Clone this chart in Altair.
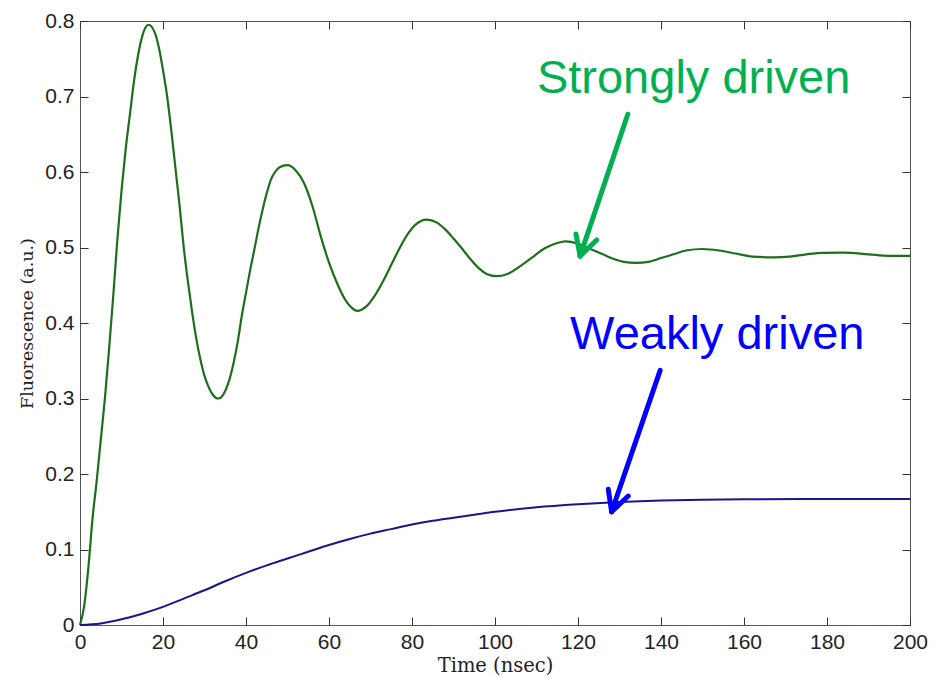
import altair as alt
import pandas as pd

# Strongly driven: damped oscillation of the fluorescence (time in ns, a.u.)
time_strong = [0, 1, 2, 3, 4, 5, 6, 7, 8, 9, 10, 11, 12, 13, 14, 15,
               16.5, 18, 19, 20, 21, 22, 23, 24, 25, 26, 27, 28, 29, 30, 31, 32, 33.3,
               35, 36, 37, 38, 39, 40, 41, 42, 43, 44, 45, 46, 47, 48, 50,
               52, 54, 56, 58, 60, 62, 64, 65.5, 66.8,
               69, 71, 73, 75, 77, 79, 81, 83.5,
               86, 88, 90, 92, 94, 96, 98, 100.3,
               103, 106, 109, 112, 115, 117,
               120, 123, 126, 129, 131, 134,
               137, 140, 143, 146, 150,
               154, 158, 162, 167,
               171, 175, 179, 184,
               190, 195, 200]
fluor_strong = [0, 0.025, 0.075, 0.14, 0.19, 0.245, 0.30, 0.365, 0.435, 0.51, 0.575, 0.63, 0.675, 0.72, 0.755, 0.78,
                0.795, 0.785, 0.765, 0.735, 0.70, 0.655, 0.605, 0.555, 0.50, 0.455, 0.415, 0.38, 0.352, 0.33, 0.315, 0.305, 0.300,
                0.31, 0.325, 0.347, 0.375, 0.41, 0.44, 0.47, 0.497, 0.525, 0.55, 0.572, 0.59, 0.60, 0.606, 0.609,
                0.602, 0.585, 0.555, 0.515, 0.48, 0.452, 0.43, 0.42, 0.416,
                0.422, 0.436, 0.455, 0.477, 0.499, 0.518, 0.531, 0.537,
                0.533, 0.524, 0.512, 0.499, 0.485, 0.473, 0.465, 0.462,
                0.465, 0.475, 0.487, 0.499, 0.506, 0.508,
                0.505, 0.498, 0.491, 0.484, 0.481, 0.4797,
                0.481, 0.486, 0.491, 0.496, 0.498,
                0.496, 0.492, 0.488, 0.487,
                0.488, 0.491, 0.493, 0.4933,
                0.491, 0.489, 0.489]

# Weakly driven: slow monotonic rise to a plateau
time_weak = [0, 5, 10, 15, 20, 25, 30, 35, 40, 45, 50, 55, 60, 65, 70, 75, 80, 85, 90, 95, 100,
             110, 120, 130, 140, 150, 160, 180, 200]
fluor_weak = [0, 0.002, 0.0075, 0.015, 0.024, 0.035, 0.046, 0.058, 0.069, 0.079, 0.088, 0.097, 0.106,
              0.114, 0.121, 0.127, 0.133, 0.138, 0.142, 0.146, 0.150,
              0.156, 0.160, 0.163, 0.165, 0.166, 0.1665, 0.167, 0.167]

x_ticks = [0, 20, 40, 60, 80, 100, 120, 140, 160, 180, 200]
y_ticks = [0, 0.1, 0.2, 0.3, 0.4, 0.5, 0.6, 0.7, 0.8]

# Annotation labels (anchored in data units) and arrow segments
label_text = ["Strongly driven", "Weakly driven"]
label_t = [110.1, 118.1]
label_f = [0.705, 0.366]
label_color = ["#00b050", "#0000ff"]

arrow_t = [132.0, 119.5, 124.5, 139.8, 127.3, 132.1]
arrow_f = [0.6765, 0.518, 0.510, 0.3373, 0.1797, 0.1708]
arrow_tip_t = [120.5, 120.5, 120.5, 128.1, 128.1, 128.1]
arrow_tip_f = [0.4886, 0.4886, 0.4886, 0.150, 0.150, 0.150]
arrow_color = ["#00b050"] * 3 + ["#0000ff"] * 3

strong = pd.DataFrame({"t": time_strong, "f": fluor_strong})
weak = pd.DataFrame({"t": time_weak, "f": fluor_weak})
labels = pd.DataFrame({"t": label_t, "f": label_f, "text": label_text, "color": label_color})
arrows = pd.DataFrame({"t": arrow_t, "f": arrow_f, "t2": arrow_tip_t, "f2": arrow_tip_f, "color": arrow_color})

x_scale = alt.Scale(domain=[0, 200], nice=False, zero=False)
y_scale = alt.Scale(domain=[0, 0.8], nice=False, zero=False)

TICK = "#333333"
LABEL_FONT = "Liberation Sans"
TITLE_FONT = "DejaVu Serif"

# Inward ticks: axes pulled inside the frame by the tick length
x_bottom = alt.Axis(orient="bottom", values=x_ticks, offset=-8, tickSize=8, tickColor=TICK,
                    domain=False, grid=False, labelFont=LABEL_FONT, labelFontSize=21,
                    labelColor="#222222", labelPadding=6, labelFlush=False, format="d",
                    title="Time (nsec)", titleFont=TITLE_FONT, titleFontSize=19.5,
                    titleFontWeight="normal", titleColor="#222222", titlePadding=4)
y_left = alt.Axis(orient="left", values=y_ticks, offset=-8, tickSize=8, tickColor=TICK,
                  domain=False, grid=False, labelFont=LABEL_FONT, labelFontSize=21,
                  labelColor="#222222", labelPadding=6, labelFlush=False, format="~g",
                  title="Fluorescence (a.u.)", titleFont=TITLE_FONT, titleFontSize=17.5,
                  titleFontWeight="normal", titleColor="#222222", titlePadding=8)
x_top = alt.Axis(orient="top", values=x_ticks, offset=-8, tickSize=8, tickColor=TICK,
                 domain=False, grid=False, labels=False, title=None)
y_right = alt.Axis(orient="right", values=y_ticks, offset=-8, tickSize=8, tickColor=TICK,
                   domain=False, grid=False, labels=False, title=None)

green_line = alt.Chart(strong).mark_line(color="#1d6e1d", strokeWidth=2.2, interpolate="monotone").encode(
    x=alt.X("t:Q", scale=x_scale, axis=x_bottom),
    y=alt.Y("f:Q", scale=y_scale, axis=y_left),
)

blue_line = alt.Chart(weak).mark_line(color="#17178c", strokeWidth=2, interpolate="monotone").encode(
    x=alt.X("t:Q", scale=x_scale, axis=x_top),
    y=alt.Y("f:Q", scale=y_scale, axis=y_right),
)

arrow_rules = alt.Chart(arrows).mark_rule(strokeWidth=5, strokeCap="round").encode(
    x=alt.X("t:Q", scale=x_scale, axis=None),
    y=alt.Y("f:Q", scale=y_scale, axis=None),
    x2="t2:Q",
    y2="f2:Q",
    color=alt.Color("color:N", scale=None),
)

label_marks = alt.Chart(labels).mark_text(align="left", baseline="alphabetic",
                                          font=LABEL_FONT, fontSize=47).encode(
    x=alt.X("t:Q", scale=x_scale, axis=None),
    y=alt.Y("f:Q", scale=y_scale, axis=None),
    text="text:N",
    color=alt.Color("color:N", scale=None),
)

chart = (
    alt.layer(green_line, blue_line, arrow_rules, label_marks)
    .resolve_axis(x="independent", y="independent")
    .properties(
        width=830,
        height=604,
        padding={"left": 80, "top": 21, "right": 25, "bottom": 53},
        autosize=alt.AutoSizeParams(type="none"),
        background="white",
    )
    .configure_view(stroke="#555555", strokeWidth=1)
)

chart.save("out.html", embed_options={"renderer": "svg", "actions": False})
